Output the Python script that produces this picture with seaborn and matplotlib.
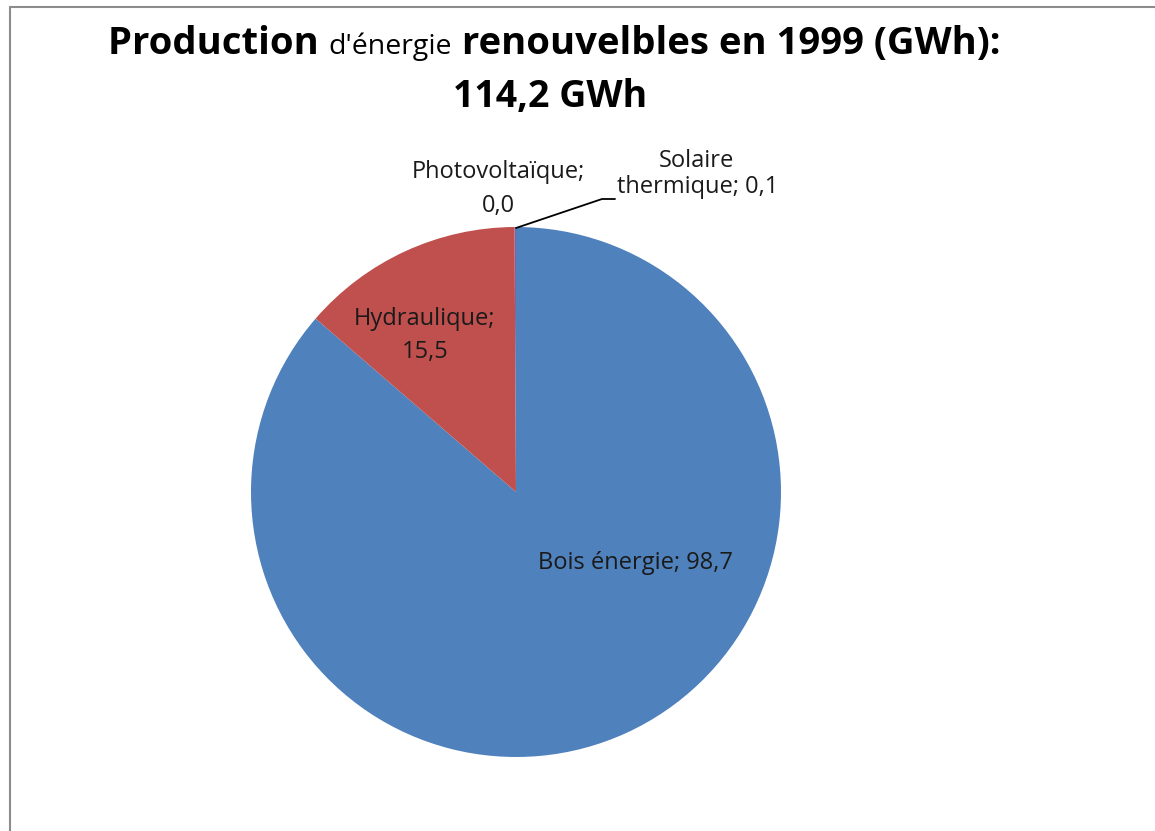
import matplotlib
matplotlib.use("Agg")
from matplotlib import pyplot as plt
from matplotlib.lines import Line2D
import seaborn as sns

sources = ['Bois énergie', 'Hydraulique', 'Photovoltaïque', 'Solaire thermique']
production_gwh = [98.7, 15.5, 0.0, 0.1]
colors = ['#4F81BD', '#C0504D', '#9BBB59', '#8064A2']
total_gwh = 114.2

sns.set_theme(style="white")
plt.rcParams['font.family'] = ['Open Sans', 'DejaVu Sans']


def fr(v):
    return f"{v:.1f}".replace('.', ',')


W, H = 1155, 831
fig = plt.figure(figsize=(W / 100, H / 100), dpi=100)
fig.patch.set_facecolor('white')

# pie: centre (516, 492) px, radius 265 px
cx, cy, r = 516, 492, 265
ax = fig.add_axes([(cx - r) / W, (H - cy - r) / H, 2 * r / W, 2 * r / H])
ax.pie(production_gwh, colors=colors, startangle=90, counterclock=False,
       radius=1, wedgeprops=dict(linewidth=0))
ax.set_xlim(-1, 1)
ax.set_ylim(-1, 1)
ax.set_aspect('equal')
ax.axis('off')


def d(px, py):
    # pixel position -> pie data coords
    return (px - cx) / r, (cy - py) / r


# chart area frame (left and top edges visible)
frame_kw = dict(color='#8c8c8c', linewidth=1.5, transform=fig.transFigure)
fig.add_artist(Line2D([10 / W, 10 / W], [0, 1 - 7 / H], **frame_kw))
fig.add_artist(Line2D([10 / W, 1], [1 - 7 / H, 1 - 7 / H], **frame_kw))

# data labels, one line at a time (centre x, baseline y in px)
lab_kw = dict(fontsize=17, color='#1a1a1a', ha='center', va='baseline',
              clip_on=False)
label_lines = [
    (f"{sources[0]}; {fr(production_gwh[0])}", 635, 569),
    (f"{sources[1]};", 425, 325),
    (fr(production_gwh[1]), 425, 358),
    (f"{sources[2]};", 498, 178),
    (fr(production_gwh[2]), 498, 212),
    ("Solaire", 697, 167),
    ("thermique; " + fr(production_gwh[3]), 698, 193),
]
for s, px, py in label_lines:
    ax.text(*d(px, py), s, **lab_kw)

lx, ly = zip(d(516, 228), d(602, 199), d(615, 199))
ax.plot(lx, ly, color='black', linewidth=1.3, clip_on=False)

# title with smaller, regular-weight "d'énergie" fragment
fig.canvas.draw()
renderer = fig.canvas.get_renderer()
parts = [("Production ", 27.5, 'bold'), ("d'énergie", 20.5, 'normal'),
         (" renouvelbles en 1999 (GWh):", 27.5, 'bold')]
base_y = 1 - 54 / H
texts = []
for s, fs, fw in parts:
    t = fig.text(0, base_y, s, fontsize=fs, fontweight=fw, va='baseline',
                 ha='left', color='black')
    texts.append(t)
widths = [t.get_window_extent(renderer).width for t in texts]
x = 554 - sum(widths) / 2
for t, w in zip(texts, widths):
    t.set_x(x / W)
    x += w
fig.text(550 / W, 1 - 107 / H, f"{fr(total_gwh)} GWh", fontsize=27,
         fontweight='bold', ha='center', va='baseline', color='black')

plt.savefig('out.png', dpi=100)
plt.close()
